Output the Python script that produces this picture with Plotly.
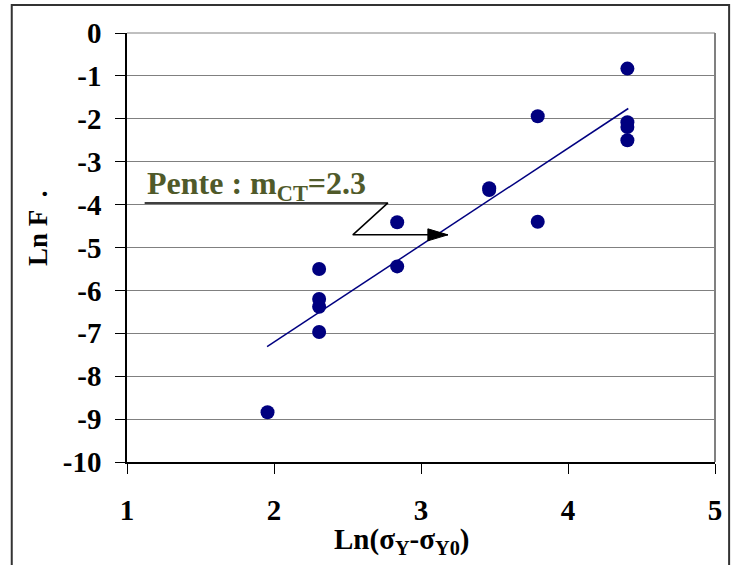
import plotly.graph_objects as go

# Data
x_vals = [1.956, 2.307, 2.307, 2.307, 2.307, 2.838, 2.838, 3.464, 3.464, 3.794, 3.794, 4.404, 4.404, 4.404, 4.404]
y_vals = [-8.84, -5.50, -6.20, -6.38, -6.97, -4.41, -5.44, -3.62, -3.66, -1.94, -4.40, -0.83, -2.08, -2.19, -2.50]

# Regression line end points
fit_x = [1.953, 4.41]
fit_y = [-7.31, -1.76]

x_ticks = [1, 2, 3, 4, 5]
y_ticks = [0, -1, -2, -3, -4, -5, -6, -7, -8, -9, -10]

# Callout (annotation leader line) in data coordinates
callout_x = [1.12, 2.775, 2.536, 3.183]
callout_y = [-3.96, -3.96, -4.705, -4.705]

FONT = "Liberation Serif"
NAVY = "#000080"

fig = go.Figure()
fig.add_trace(go.Scatter(x=fit_x, y=fit_y, mode="lines",
                         line=dict(color=NAVY, width=1.5), showlegend=False, hoverinfo="skip"))
fig.add_trace(go.Scatter(x=x_vals, y=y_vals, mode="markers",
                         marker=dict(size=14, color=NAVY), showlegend=False))
fig.add_trace(go.Scatter(x=callout_x, y=callout_y, mode="lines",
                         line=dict(color="black", width=1.5), showlegend=False, hoverinfo="skip"))

# arrow head at end of callout
tip_x, tip_y = callout_x[-1], callout_y[-1]
hl = 20 / 146.9
hw = 6 / 42.93
fig.add_shape(type="path", xref="x", yref="y",
              path=f"M {tip_x} {tip_y} L {tip_x - hl} {tip_y + hw} L {tip_x - hl} {tip_y - hw} Z",
              fillcolor="black", line=dict(color="black", width=1))

fig.update_layout(
    width=746, height=565,
    margin=dict(l=127, r=31, t=33, b=103),
    paper_bgcolor="white", plot_bgcolor="white",
    showlegend=False,
    xaxis=dict(range=[1, 5], tickvals=x_ticks, ticktext=[str(v) for v in x_ticks],
               showgrid=False, zeroline=False,
               showline=True, linecolor="black", linewidth=1.5,
               ticks="outside", ticklen=10, tickcolor="black", tickwidth=1,
               tickfont=dict(family=FONT, size=29, color="black", weight="bold"),
               ticklabelstandoff=11),
    yaxis=dict(range=[-10, 0], tickvals=y_ticks, ticktext=[str(v) for v in y_ticks],
               showgrid=True, gridcolor="#808080", gridwidth=1, zeroline=False,
               showline=True, linecolor="black", linewidth=1.5,
               ticks="outside", ticklen=10, tickcolor="black", tickwidth=1,
               tickfont=dict(family=FONT, size=29, color="black", weight="bold"),
               ticklabelstandoff=8),
)

# plot area right and top border
fig.add_shape(type="line", xref="paper", yref="paper", x0=1, x1=1, y0=0, y1=1,
              line=dict(color="#808080", width=2))
fig.add_shape(type="line", xref="paper", yref="paper", x0=0, x1=1, y0=1, y1=1,
              line=dict(color="#808080", width=1))
# outer chart border
fig.add_shape(type="rect", xref="paper", yref="paper", x0=-0.196, x1=1.024, y0=-0.3, y1=1.065,
              line=dict(color="#333333", width=2), fillcolor="rgba(0,0,0,0)", layer="below")

fig.add_annotation(xref="paper", yref="paper", x=-0.151, y=0.546,
                   text="Ln F  .", textangle=-90, showarrow=False,
                   font=dict(family=FONT, size=27, color="black", weight="bold"),
                   xanchor="center", yanchor="middle")
fig.add_annotation(xref="paper", yref="paper", x=0.466, y=-0.183,
                   text="Ln(σ<sub>Y</sub>-σ<sub>Y0</sub>)", showarrow=False,
                   font=dict(family=FONT, size=29, color="black", weight="bold"),
                   xanchor="center", yanchor="middle")
fig.add_annotation(xref="paper", yref="paper", x=0.031, y=0.645,
                   text="Pente : m<sub>CT</sub>=2.3", showarrow=False,
                   font=dict(family=FONT, size=32, color="#505a2a", weight="bold"),
                   xanchor="left", yanchor="middle")

fig.write_html("out.html")
